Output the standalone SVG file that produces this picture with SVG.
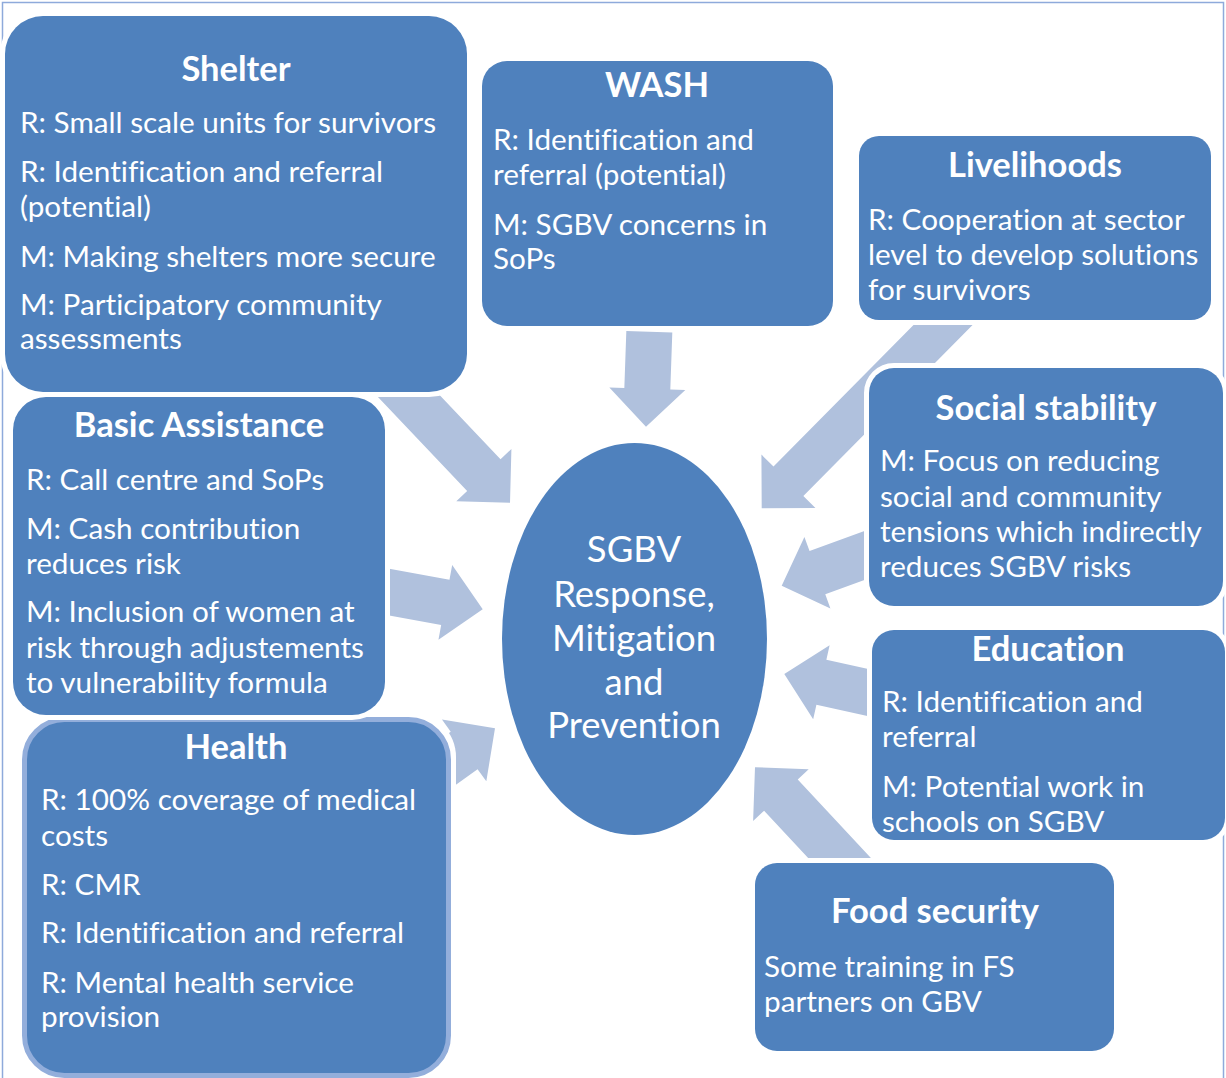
<svg xmlns="http://www.w3.org/2000/svg" width="1226" height="1078" viewBox="0 0 1226 1078">
<style>
.frame{fill:#fff;stroke:#8eaadb;stroke-width:1.5}
.arr{fill:#b0c1dd}
.box{fill:#4f81bd;stroke:#fff;stroke-width:10;paint-order:stroke}
.halo{fill:#fff}
.hbox{fill:#4f81bd;stroke:#93aedb;stroke-width:5}
text{font-family:Lato,"Open Sans","Liberation Sans",sans-serif;fill:#fff;font-variant-ligatures:none}
.t{font-size:29.7px}
.h{font-size:34.5px;font-weight:bold;text-anchor:middle}
.c{font-size:36.5px;text-anchor:middle}
</style>
<rect class="frame" x="2.5" y="2.5" width="1221" height="1090"/>
<g id="connectors">
<polygon class="arr" points="-180,-23 -38,-23 -38,-38 0,0 -38,38 -38,23 -180,23" transform="translate(510,502.7) rotate(46.5)"/>
<polygon class="arr" points="-95,-23 -38,-23 -38,-38 0,0 -38,38 -38,23 -95,23" transform="translate(646,426.7) rotate(92)"/>
<polygon class="arr" points="-300,-21 -38,-21 -38,-38 0,0 -38,38 -38,21 -300,21" transform="translate(761.7,508.3) rotate(134.7)"/>
<polygon class="arr" points="-130,-23 -38,-23 -38,-38 0,0 -38,38 -38,23 -130,23" transform="translate(781.7,585.7) rotate(160)"/>
<polygon class="arr" points="-125,-23 -38,-23 -38,-38 0,0 -38,38 -38,23 -125,23" transform="translate(784.3,674) rotate(-167.5)"/>
<polygon class="arr" points="-160,-23 -38,-23 -38,-38 0,0 -38,38 -38,23 -160,23" transform="translate(755,767.3) rotate(-133)"/>
<polygon class="arr" points="-120,-23 -38,-23 -38,-38 0,0 -38,38 -38,23 -120,23" transform="translate(482.7,609.3) rotate(10.4)"/>
<polygon class="arr" points="-120,-23 -38,-23 -38,-38 0,0 -38,38 -38,23 -120,23" transform="translate(495,728.3) rotate(-35.7)"/>
</g>
<g id="center">
<ellipse cx="634.5" cy="639" rx="132.5" ry="196" fill="#4f81bd"/>
<text class="c" x="634" y="562">SGBV</text>
<text class="c" x="634" y="606.5">Response,</text>
<text class="c" x="634" y="650.7">Mitigation</text>
<text class="c" x="634" y="695">and</text>
<text class="c" x="634" y="738.3">Prevention</text>
</g>
<g id="shelter">
<rect class="box" x="5" y="16" width="462" height="376" rx="38"/>
<text class="h" x="236" y="81">Shelter</text>
<text class="t" x="20" y="133">R: Small scale units for survivors</text>
<text class="t" x="20" y="182">R: Identification and referral</text>
<text class="t" x="20" y="217">(potential)</text>
<text class="t" x="20" y="267">M: Making shelters more secure</text>
<text class="t" x="20" y="315">M: Participatory community</text>
<text class="t" x="20" y="349">assessments</text>
</g>
<g id="wash">
<rect class="box" x="482" y="61" width="351" height="265" rx="25"/>
<text class="h" x="657" y="97">WASH</text>
<text class="t" x="493" y="150">R: Identification and</text>
<text class="t" x="493" y="185">referral (potential)</text>
<text class="t" x="493" y="234.5">M: SGBV concerns in</text>
<text class="t" x="493" y="269">SoPs</text>
</g>
<g id="livelihoods">
<rect class="box" x="859" y="136" width="352" height="184" rx="20"/>
<text class="h" x="1035" y="177">Livelihoods</text>
<text class="t" x="868" y="230">R: Cooperation at sector</text>
<text class="t" x="868" y="265">level to develop solutions</text>
<text class="t" x="868" y="300">for survivors</text>
</g>
<g id="social-stability">
<rect class="box" x="869" y="368" width="354" height="238" rx="25"/>
<text class="h" x="1046" y="420">Social stability</text>
<text class="t" x="880" y="471">M: Focus on reducing</text>
<text class="t" x="880" y="506.5">social and community</text>
<text class="t" x="880" y="541.5">tensions which indirectly</text>
<text class="t" x="880" y="576.5">reduces SGBV risks</text>
</g>
<g id="health">
<rect class="halo" x="17" y="712" width="439" height="370" rx="45"/>
<rect class="hbox" x="24.5" y="719.5" width="424" height="356" rx="40"/>
<text class="h" x="236" y="759">Health</text>
<text class="t" x="41" y="810">R: 100% coverage of medical</text>
<text class="t" x="41" y="845.7">costs</text>
<text class="t" x="41" y="895">R: CMR</text>
<text class="t" x="41" y="943.3">R: Identification and referral</text>
<text class="t" x="41" y="992.7">R: Mental health service</text>
<text class="t" x="41" y="1026.7">provision</text>
</g>
<g id="basic-assistance">
<rect class="box" x="13" y="397" width="372" height="318" rx="33"/>
<text class="h" x="199" y="437">Basic Assistance</text>
<text class="t" x="26" y="490">R: Call centre and SoPs</text>
<text class="t" x="26" y="539">M: Cash contribution</text>
<text class="t" x="26" y="574">reduces risk</text>
<text class="t" x="26" y="622">M: Inclusion of women at</text>
<text class="t" x="26" y="658">risk through adjustements</text>
<text class="t" x="26" y="693">to vulnerability formula</text>
</g>
<g id="education">
<rect class="box" x="872" y="630" width="353" height="210" rx="22"/>
<text class="h" x="1048" y="661">Education</text>
<text class="t" x="882" y="712">R: Identification and</text>
<text class="t" x="882" y="747">referral</text>
<text class="t" x="882" y="797">M: Potential work in</text>
<text class="t" x="882" y="832">schools on SGBV</text>
</g>
<g id="food-security">
<rect class="box" x="755" y="863" width="359" height="188" rx="22"/>
<text class="h" x="935" y="923">Food security</text>
<text class="t" x="764" y="977">Some training in FS</text>
<text class="t" x="764" y="1012">partners on GBV</text>
</g>
</svg>
